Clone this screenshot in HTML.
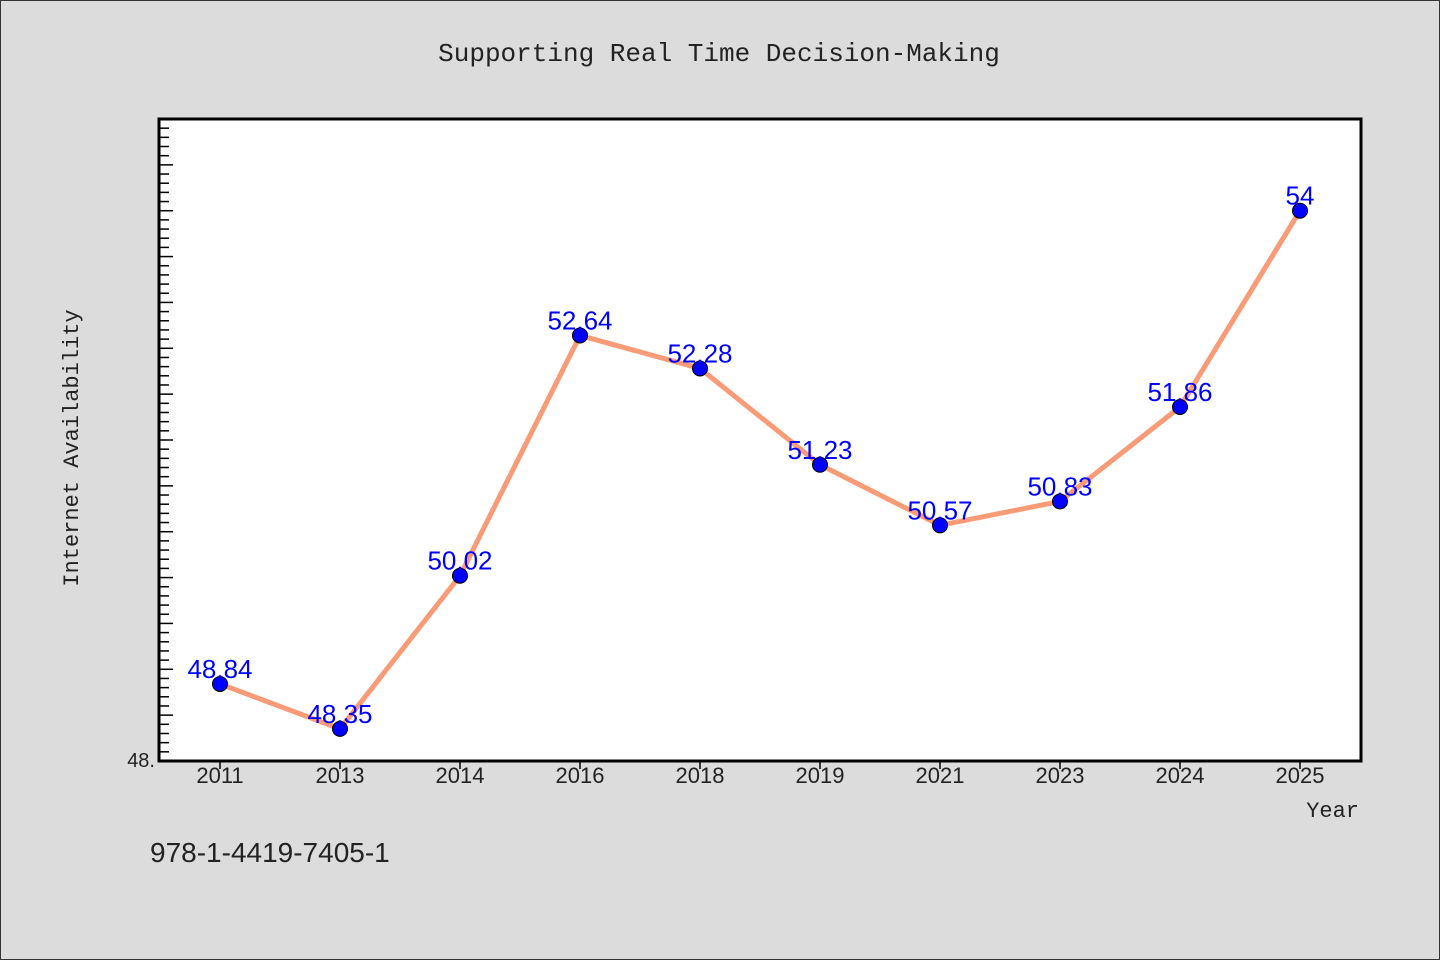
<!DOCTYPE html>
<html><head><meta charset="utf-8"><style>
html,body{margin:0;padding:0;background:#dcdcdc;}
#wrap{width:1438px;height:958px;border:1px solid #333;position:relative;background:#dcdcdc;}
svg text{font-family:"Liberation Sans","DejaVu Sans",sans-serif;}
</style></head><body>
<div id="wrap">
<svg id="chart" width="1440" height="960" style="position:absolute;left:-1px;top:-1px">
<text x="719" y="61" text-anchor="middle" font-size="26" fill="#222" style="font-family:'Liberation Mono',monospace">Supporting Real Time Decision-Making</text>
<rect x="159" y="119" width="1202" height="642" fill="#fff"/>
<g id="ticks"></g>
<polyline id="line" fill="none" stroke="#fa9b78" stroke-width="5" stroke-linejoin="round"/>
<g id="points"></g>
<rect x="159" y="119" width="1202" height="642" fill="none" stroke="#000" stroke-width="3"/>
<text x="78" y="448" text-anchor="middle" font-size="22" fill="#222" transform="rotate(-90 78 448)" style="font-family:'Liberation Mono',monospace">Internet Availability</text>
<text x="1359" y="817" text-anchor="end" font-size="22" fill="#222" style="font-family:'Liberation Mono',monospace">Year</text>
<text x="150" y="862" font-size="28" fill="#222">978-1-4419-7405-1</text>
</svg>
</div>
<script>
const categories=["2011","2013","2014","2016","2018","2019","2021","2023","2024","2025"];
const values=[48.84,48.35,50.02,52.64,52.28,51.23,50.57,50.83,51.86,54];
const labels=["48.84","48.35","50.02","52.64","52.28","51.23","50.57","50.83","51.86","54"];
const yMin=48,yMax=55;
const NS="http://www.w3.org/2000/svg";
const L=159,R=1361,T=119,B=761;
function x(i){return 220+i*120;}
function y(v){return B-(v-yMin)/(yMax-yMin)*(B-T);}
function mk(t,a,p){const e=document.createElementNS(NS,t);for(const k in a)e.setAttribute(k,a[k]);p.appendChild(e);return e;}
const tk=document.getElementById('ticks');
for(let k=1;k<=(yMax-yMin)*10;k++){const v=yMin+k/10;const maj=k%5===0;
const l=mk('line',{x1:L,x2:L+(maj?14:10),y1:y(v),y2:y(v),stroke:'#000','stroke-width':1.5},tk);

}
const yl=mk('text',{x:155,y:B+6,'text-anchor':'end','font-size':20,fill:'#222'},tk);yl.textContent=yMin+".";


categories.forEach((c,i)=>{
const l=mk('line',{x1:x(i),x2:x(i),y1:B,y2:B+8,stroke:'#000','stroke-width':1.5},tk);


const t=mk('text',{x:x(i),y:B+22,'text-anchor':'middle','font-size':22,fill:'#222'},tk);t.textContent=c;

});
document.getElementById('line').setAttribute('points',values.map((v,i)=>x(i)+","+y(v)).join(" "));
const pg=document.getElementById('points');
values.forEach((v,i)=>{
const c=mk('circle',{cx:x(i),cy:y(v),r:7.5,fill:'#0000ff',stroke:'#000','stroke-width':1},pg);


const t=mk('text',{x:x(i),y:y(v)-6,'text-anchor':'middle','font-size':26,fill:'#0000ff'},pg);t.textContent=labels[i];

});
</script>
</body></html>
